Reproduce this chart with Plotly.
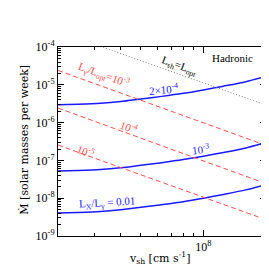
import plotly.graph_objects as go

# x values (shock velocity, cm/s)
v_blue = [2e7, 2.5e7, 3.2e7, 4e7, 5e7, 6.3e7, 8e7, 1e8, 1.25e8, 1.6e8, 2e8]
mdot_2e4 = [2.98e-6, 3.08e-6, 3.27e-6, 3.62e-6, 4.21e-6, 4.94e-6, 5.94e-6, 7.31e-6, 9.2e-6, 1.21e-5, 1.66e-5]
mdot_1e3 = [5.25e-8, 5.43e-8, 5.75e-8, 6.38e-8, 7.41e-8, 8.71e-8, 1.05e-7, 1.29e-7, 1.62e-7, 2.14e-7, 2.98e-7]
mdot_1e2 = [4.07e-9, 4.21e-9, 4.46e-9, 4.95e-9, 5.74e-9, 6.75e-9, 8.1e-9, 1.0e-8, 1.26e-8, 1.66e-8, 2.3e-8]

v_red = [2e7, 2e8]
red_1e3 = [2.4e-5, 2.5e-7]
red_1e4 = [2.43e-6, 2.43e-8]
red_1e5 = [2.55e-7, 2.7e-9]

v_gray = [2e7, 2e8]
gray_lsh = [2.6e-4, 2.9e-6]

y_tickvals = [1e-9, 1e-8, 1e-7, 1e-6, 1e-5, 1e-4]
y_ticktext = ["10<sup>-9</sup>", "10<sup>-8</sup>", "10<sup>-7</sup>",
              "10<sup>-6</sup>", "10<sup>-5</sup>", "10<sup>-4</sup>"]
x_tickvals = [1e8]
x_ticktext = ["10<sup>8</sup>"]

FONT = "Liberation Serif"
TFONT = "DejaVu Serif"
BLUE = "#1a1aff"
RED = "#ff4d4d"

fig = go.Figure()
for yv in (mdot_2e4, mdot_1e3, mdot_1e2):
    fig.add_trace(go.Scatter(x=v_blue, y=yv, mode="lines",
                             line=dict(color=BLUE, width=1.5, shape="spline", smoothing=0.8)))
for r in (red_1e3, red_1e4, red_1e5):
    fig.add_trace(go.Scatter(x=v_red, y=r, mode="lines", line=dict(color=RED, width=1, dash="5px,3px")))
fig.add_trace(go.Scatter(x=v_gray, y=gray_lsh, mode="lines", line=dict(color="#777777", width=1, dash="1px,2px")))

axis_common = dict(type="log", showgrid=False, zeroline=False, showline=True,
                   linecolor="black", linewidth=1, mirror="ticks",
                   ticks="inside", ticklen=6, tickcolor="black",
                   tickfont=dict(family=FONT, size=12, color="black"))

fig.update_xaxes(**axis_common, range=[7.30103, 8.30103],
                 tickvals=x_tickvals, ticktext=x_ticktext,
                 minor=dict(ticks="inside", ticklen=3, tickcolor="black", dtick="D1"))
fig.update_yaxes(**axis_common, range=[-9, -4],
                 tickvals=y_tickvals, ticktext=y_ticktext,
                 minor=dict(ticks="inside", ticklen=3, tickcolor="black", dtick="D1"))

def ann(x, y, text, color, angle=0, size=10, ref="data", family=FONT):
    d = dict(x=x, y=y, text=text, showarrow=False, textangle=angle,
             font=dict(family=family, size=size, color=color),
             xanchor="center", yanchor="middle")
    if ref == "paper":
        d.update(xref="paper", yref="paper")
    fig.add_annotation(**d)

ann(7.522, -4.741, "L<sub>γ</sub>/L<sub>opt</sub>=10<sup>-3</sup>", RED, 20, 11)
ann(7.644, -6.116, "10<sup>-4</sup>", RED, 20, 11)
ann(7.434, -6.751, "10<sup>-5</sup>", RED, 20, 11)
ann(7.81, -5.111, "2×10<sup>-4</sup>", BLUE, -5, 11)
ann(7.99, -6.698, "10<sup>-3</sup>", BLUE, -6, 11)
ann(7.537, -8.127, "L<sub>X</sub>/L<sub>γ</sub> = 0.01", BLUE, -3, 11)
ann(7.883, -4.503, "L<sub>sh</sub>=L<sub>opt</sub>", "black", 20, 11)
ann(8.141, -4.291, "Hadronic", "black", 0, 11)

ann(-0.165, 0.508, "M\u0307 [solar masses per week]", "black", -90, 11, "paper", TFONT)
ann(0.486, -0.116, "v<sub>sh</sub> [cm s<sup>-1</sup>]", "black", 0, 11, "paper", TFONT)

fig.update_layout(width=269, height=269, margin=dict(l=50, r=11, t=39, b=41),
                  paper_bgcolor="white", plot_bgcolor="white", showlegend=False)

fig.write_html("out.html")
